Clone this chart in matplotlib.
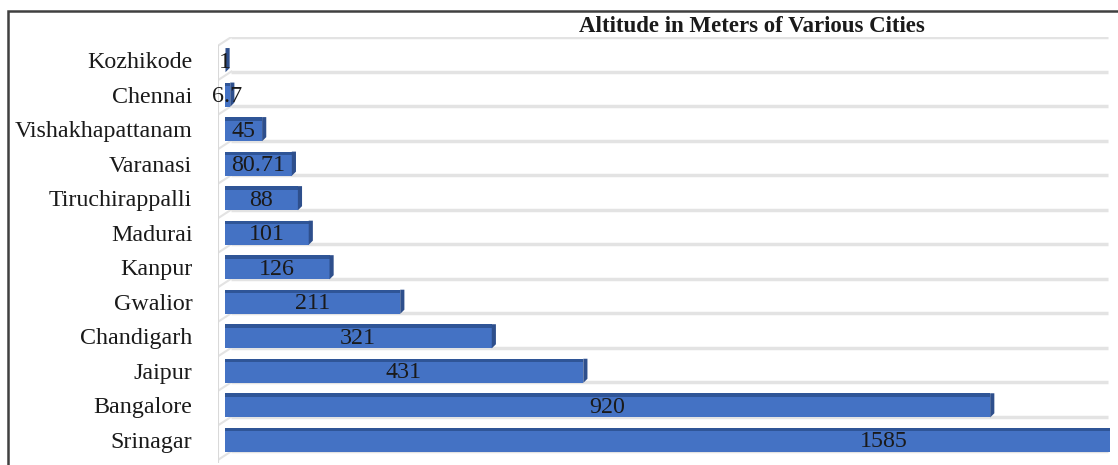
import matplotlib.pyplot as plt
from matplotlib.patches import Rectangle

cities = ['Srinagar', 'Bangalore', 'Jaipur', 'Chandigarh', 'Gwalior', 'Kanpur',
          'Madurai', 'Tiruchirappalli', 'Varanasi', 'Vishakhapattanam', 'Chennai', 'Kozhikode']
altitudes = [1585, 920, 431, 321, 211, 126, 101, 88, 80.71, 45, 6.7, 1]
title = "Altitude in Meters of Various Cities"

plt.rcParams['font.family'] = ['Liberation Serif', 'DejaVu Serif']

fig = plt.figure(figsize=(11.18, 4.65), dpi=100)
ax = fig.add_axes([218 / 1118, 2 / 465, (1110 - 218) / 1118, 426 / 465])

bar_color = '#4472C4'
dark = '#2F5597'
h = 0.7
pos = list(range(len(cities)))

# floor grid lines behind the bars
for i in range(len(cities) + 1):
    g = i - 0.33
    ax.plot([8, 1062], [g, g], color='#e3e3e3', lw=2.5, zorder=0, solid_capstyle='butt')
    ax.plot([-8, 8], [g - 0.25, g], color='#e3e3e3', lw=1.5, zorder=0)
ax.plot([-8, -8], [-0.67, 11.67 - 0.25], color='#d9d9d9', lw=1.5, zorder=0)

ax.barh(pos, altitudes, height=h, color=bar_color, zorder=2)
# darker top edge and end face for the 3D look
ax.barh([p + h / 2 - 0.05 for p in pos], altitudes, height=0.1, color=dark, zorder=3)
for p, v in zip(pos, altitudes):
    ax.fill([v, v + 5, v + 5, v], [p - h / 2, p - h / 2 + 0.12, p + h / 2, p + h / 2],
            color='#2E4F8C', zorder=3, lw=0)
    ax.text(v / 2, p - 0.06, f"{v:g}", ha='center', va='center', fontsize=17.3,
            color='#1a1a1a', zorder=4)

ax.set_xlim(-8, 1064)
ax.set_ylim(-0.67, 11.67)
ax.set_yticks(pos)
ax.set_yticklabels(cities, fontsize=17.3, color='#1a1a1a')
ax.tick_params(axis='y', length=0, pad=18.5)
ax.set_xticks([])
for s in ax.spines.values():
    s.set_visible(False)

fig.text(752 / 1118, 1 - 27 / 465, title, ha='center', va='center',
         fontsize=16.5, fontweight='bold', color='#1a1a1a')

# chart border
fig.patches.append(Rectangle((8 / 1118, -0.1), 1.2, 1 - 11 / 465 + 0.1,
                             transform=fig.transFigure, fill=False,
                             edgecolor='#404040', lw=1.8))

fig.savefig('out.png', dpi=100)
